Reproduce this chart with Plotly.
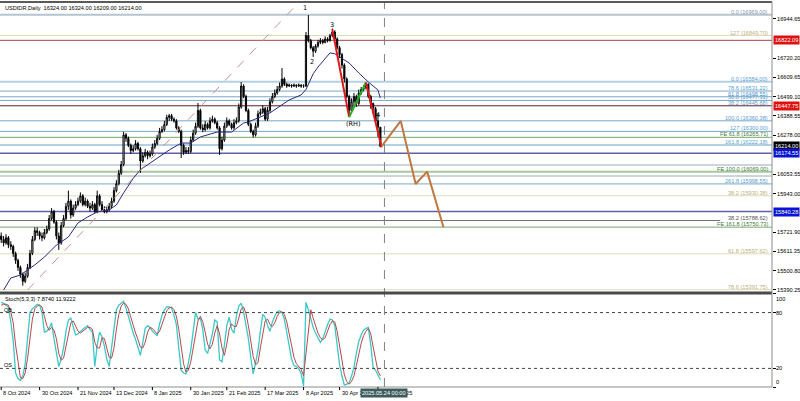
import plotly.graph_objects as go

# ---------------- data ----------------
chart_title = "USDIDR,Daily  16324.00 16324.00 16209.00 16214.00"
stoch_title = "Stoch(5,3,3) 7.8740 11.9222"

bars = list(range(159))
opens = [15700,15680,15660,15690,15650,15640,15600,15560,15520,15480,
         15440,15470,15520,15600,15680,15730,15720,15700,15690,15720,
         15740,15800,15840,15780,15700,15660,15760,15800,15870,15900,
         15820,15860,15880,15900,15930,15880,15900,15870,15860,15880,
         15840,15930,15880,15850,15840,15850,15870,15900,15960,16000,
         16060,16110,16280,16260,16220,16190,16200,16230,16200,16130,
         16160,16180,16160,16170,16210,16230,16260,16300,16310,16340,
         16380,16390,16370,16360,16320,16300,16220,16180,16190,16185,
         16250,16290,16330,16420,16320,16310,16340,16320,16360,16370,
         16350,16320,16200,16250,16330,16360,16340,16320,16350,16360,
         16440,16560,16500,16420,16340,16300,16280,16330,16400,16410,
         16430,16370,16420,16470,16500,16520,16540,16560,16600,16570,
         16560,16565,16560,16565,16560,16565,16560,16560,16850,16820,
         16780,16760,16790,16810,16820,16810,16830,16820,16850,16870,
         16830,16780,16740,16680,16600,16500,16420,16470,16500,16460,
         16520,16540,16550,16570,16500,16460,16430,16360,16324]
highs = [15720,15700,15710,15700,15670,15650,15610,15570,15530,15490,
         15490,15540,15620,15700,15750,15750,15730,15720,15740,15760,
         15820,15860,15850,15790,15720,15780,15820,15890,15960,15910,
         15880,15900,15920,15950,15940,15920,15910,15890,15900,15890,
         15960,15940,15900,15870,15870,15890,15920,15980,16020,16080,
         16130,16297,16290,16270,16230,16220,16250,16240,16210,16180,
         16200,16190,16190,16230,16250,16280,16320,16330,16360,16395,
         16400,16400,16380,16370,16330,16310,16230,16210,16210,16270,
         16310,16350,16463,16430,16340,16360,16350,16380,16390,16380,
         16360,16330,16270,16350,16380,16370,16350,16370,16380,16460,
         16583,16570,16510,16430,16350,16310,16350,16420,16430,16450,
         16440,16440,16490,16520,16540,16560,16580,16663,16610,16580,
         16575,16570,16575,16570,16575,16570,16570,16870,16967,16830,
         16790,16800,16825,16835,16830,16845,16840,16860,16890,16880,
         16840,16790,16750,16690,16610,16510,16490,16520,16510,16540,
         16555,16565,16580,16575,16510,16465,16440,16405,16324]
lows = [15660,15640,15650,15630,15620,15580,15540,15500,15460,15415,
        15430,15460,15510,15590,15670,15700,15680,15670,15680,15710,
        15730,15790,15770,15680,15620,15650,15750,15790,15850,15800,
        15810,15850,15870,15890,15870,15870,15860,15840,15850,15830,
        15830,15870,15840,15830,15830,15840,15860,15890,15950,15990,
        16050,16100,16240,16210,16170,16180,16190,16190,16061,16120,
        16150,16140,16150,16160,16200,16220,16250,16290,16300,16330,
        16360,16360,16350,16310,16290,16147,16165,16170,16170,16175,
        16240,16280,16320,16310,16295,16300,16310,16310,16350,16340,
        16310,16165,16190,16240,16320,16330,16310,16310,16340,16350,
        16430,16490,16410,16330,16290,16265,16270,16320,16390,16400,
        16360,16360,16410,16460,16490,16510,16530,16550,16560,16550,
        16555,16550,16555,16550,16555,16550,16550,16555,16810,16770,
        16727,16750,16780,16800,16800,16805,16810,16815,16840,16820,
        16770,16720,16660,16580,16490,16382,16410,16450,16440,16450,
        16510,16530,16540,16490,16430,16400,16350,16268,16209]
closes = [15680,15660,15690,15650,15640,15600,15560,15520,15480,15440,
          15470,15520,15600,15680,15730,15720,15700,15690,15720,15740,
          15800,15840,15780,15700,15660,15760,15800,15870,15900,15820,
          15860,15880,15900,15930,15880,15900,15870,15860,15880,15840,
          15930,15880,15850,15840,15850,15870,15900,15960,16000,16060,
          16110,16280,16260,16220,16190,16200,16230,16200,16130,16160,
          16180,16160,16170,16210,16230,16260,16300,16310,16340,16380,
          16390,16370,16360,16320,16300,16220,16180,16190,16185,16250,
          16290,16330,16420,16320,16310,16340,16320,16360,16370,16350,
          16320,16200,16250,16330,16360,16340,16320,16350,16360,16440,
          16560,16500,16420,16340,16300,16280,16330,16400,16410,16430,
          16370,16420,16470,16500,16520,16540,16560,16600,16570,16560,
          16565,16560,16565,16560,16565,16560,16560,16850,16820,16780,
          16760,16790,16810,16820,16810,16830,16820,16850,16870,16830,
          16780,16740,16680,16600,16500,16420,16470,16500,16460,16520,
          16540,16550,16570,16500,16460,16430,16360,16324,16214]

ma_bars = [1,4,8,14,18,23,28,32,36,40,45,48,51,53,55,58,62,70,75,79,83,90,96,101,103,
           112,120,125,127,130,132,137,139,145,149,153,157,158]
ma_values = [15390,15459,15476,15534,15579,15648,15694,15775,15809,15838,15849,15878,15947,
             15990,16030,16080,16119,16193,16233,16233,16268,16296,16296,16348,16354,
             16406,16480,16509,16540,16630,16669,16750,16745,16692,16635,16583,16537,16491]

stoch_main = [91,90,88,86,70,50,15,9,7,12,25,55,80,84,87,89,88,80,59,60,
              63,69,52,35,22,30,42,60,72,74,66,56,57,60,62,64,66,62,59,22,
              45,59,54,44,30,22,42,62,83,88,90,92,85,75,65,58,51,43,34,48,
              63,66,64,60,57,55,68,77,83,86,86,85,77,67,42,18,15,14,26,40,
              60,80,73,74,62,40,36,46,57,72,70,29,27,45,66,75,62,58,76,87,
              90,81,66,52,32,14,26,39,60,78,75,66,60,70,76,81,82,80,73,58,
              44,30,23,22,20,14,1,91,83,74,64,58,52,48,52,60,67,73,72,66,
              42,24,12,2,3,4,12,21,36,49,56,61,63,64,45,21,18,12,7.874]
stoch_signal = [88,89,89,88,81,69,45,25,10,9,15,31,53,73,84,87,88,86,76,66,
                61,64,61,52,36,29,31,44,58,69,71,65,60,58,60,62,64,64,62,48,
                42,42,53,52,43,32,31,42,62,78,87,90,89,84,75,66,58,51,43,42,
                48,59,64,63,60,57,60,67,76,82,85,86,83,76,62,42,25,16,18,27,
                42,60,71,76,70,59,46,41,46,58,66,57,42,34,46,62,68,65,65,74,
                84,86,79,66,50,33,24,26,42,59,71,73,67,65,69,76,80,81,78,70,
                58,44,32,25,22,19,12,35,58,83,74,65,58,53,51,53,60,67,71,70,
                60,44,26,13,6,3,6,12,23,35,47,55,60,63,57,43,28,17,11.9222]

price_ticks = [16944.65,16720.20,16609.65,16499.10,16388.55,16278.00,16053.55,
               15943.00,15721.90,15611.35,15500.80,15390.25]
stoch_ticks = [100, 80, 20, 0]

date_labels = ["8 Oct 2024","30 Oct 2024","21 Nov 2024","13 Dec 2024","8 Jan 2025",
               "30 Jan 2025","21 Feb 2025","17 Mar 2025","8 Apr 2025","30 Apr 2025","22 May 2025"]
date_bars = [0,16,32,47,63,79,94,110,126,141,157]
cursor_label = "2025.05.24 00:00"
cursor_bar = 159.7

fib_prices = [16969.00,16849.70,16584.00,16531.22,16498.55,16477.31,16445.68,16360.38,
              16300.00,16265.71,16222.18,16069.00,15998.55,15930.38,15788.62,15750.73,
              15597.62,15391.75]
fib_labels = ["0.0 (16969.00)","127 (16849.70)","0.0 (16584.00)","78.6 (16531.22)",
              "61.8 (16498.55)","50.0 (16477.31)","38.2 (16445.68)","100.0 (16360.38)",
              "127 (16300.00)","FE 61.8 (16265.71)","161.8 (16222.18)","FE 100.0 (16069.00)",
              "261.8 (15998.55)","38.2 (15930.38)","38.2 (15788.62)","FE 161.8 (15750.73)",
              "61.8 (15597.62)","78.6 (15391.75)"]
fib_kind = ["grey","khaki","lightblue","blue","blue","blue","blue","blue","blue","green",
            "lightblue","lightgreen","blue","khaki","dark","green","khaki","khaki"]

tag_prices = [16822.09, 16447.75, 16214.00, 16174.55, 15840.28]
tag_kind = ["red", "red", "black", "blue", "blue"]
extra_line_prices = [16107.00, 16044.00]

wave_text = ["1", "2", "3", "4", "(RH)"]
wave_bars = [126.8, 129.6, 137.9, 157.0, 146.7]
wave_prices = [17005, 16700, 16912, 16394, 16340]

wave_red1_bars = [138, 145]
wave_red1_prices = [16885, 16382]
wave_green_bars = [145, 152]
wave_green_prices = [16382, 16580]
wave_red2_bars = [152, 158.5]
wave_red2_prices = [16580, 16209]

proj_bars = [158.5, 166.5, 172.7, 177.5, 184.3]
proj_prices = [16214, 16360, 15998, 16069, 15750]

trend_bars = [11, 124]
trend_prices = [15390, 17040]

# ---------------- styles ----------------
FONT = "Liberation Sans, Arial"
FS = 5.6
line_style = {
    "grey": ("#b4c4d0", 2, "#8498ac"),
    "khaki": ("#dcdcb8", 1, "#c0ae78"),
    "lightblue": ("#b0d0e4", 2, "#5a9cd0"),
    "blue": ("#78a8c8", 1, "#5a9cd0"),
    "green": ("#78a868", 1, "#3c7a3c"),
    "lightgreen": ("#a8c898", 2, "#3c7a3c"),
    "dark": ("#707070", 1, "#505050"),
}
tag_bg = {"red": "#e01010", "black": "#000000", "blue": "#0a14d0"}
tag_line = {"red": "#a04848", "black": None, "blue": "#6060a8"}

X_MAX = 321.2
fig = go.Figure()

fig.add_trace(go.Candlestick(
    x=bars, open=opens, high=highs, low=lows, close=closes,
    increasing=dict(line=dict(color="#000000", width=1), fillcolor="#ffffff"),
    decreasing=dict(line=dict(color="#000000", width=1), fillcolor="#000000"),
    whiskerwidth=0, showlegend=False, hoverinfo="skip", xaxis="x", yaxis="y"))

fig.add_trace(go.Scatter(x=ma_bars, y=ma_values, mode="lines",
                         line=dict(color="#2a2a80", width=1), showlegend=False,
                         hoverinfo="skip", xaxis="x", yaxis="y"))

fig.add_trace(go.Scatter(x=trend_bars, y=trend_prices, mode="lines",
                         line=dict(color="#c89090", width=1, dash="dash"), showlegend=False,
                         hoverinfo="skip", xaxis="x", yaxis="y"))

for bx, py, col in [(wave_red1_bars, wave_red1_prices, "#e01818"),
                    (wave_green_bars, wave_green_prices, "#22b022"),
                    (wave_red2_bars, wave_red2_prices, "#e01818")]:
    fig.add_trace(go.Scatter(x=bx, y=py, mode="lines", line=dict(color=col, width=2),
                             showlegend=False, hoverinfo="skip", xaxis="x", yaxis="y"))

fig.add_trace(go.Scatter(x=proj_bars, y=proj_prices, mode="lines",
                         line=dict(color="#c07840", width=2), showlegend=False,
                         hoverinfo="skip", xaxis="x", yaxis="y"))

fig.add_trace(go.Scatter(x=bars, y=stoch_main, mode="lines",
                         line=dict(color="#3cc8c8", width=1.3), showlegend=False,
                         hoverinfo="skip", xaxis="x2", yaxis="y2"))
fig.add_trace(go.Scatter(x=bars, y=stoch_signal, mode="lines",
                         line=dict(color="#b84848", width=1), showlegend=False,
                         hoverinfo="skip", xaxis="x2", yaxis="y2"))

shapes = []
annotations = []

for p, lab, kind in zip(fib_prices, fib_labels, fib_kind):
    lc, lw, tc = line_style[kind]
    x1 = 0.933 if kind == "dark" else 1
    shapes.append(dict(type="line", xref="paper", yref="y", x0=0, x1=x1, y0=p, y1=p,
                       line=dict(color=lc, width=lw), layer="below"))
    annotations.append(dict(xref="paper", yref="y", x=1, y=p, xanchor="right", yanchor="bottom",
                            xshift=-2, yshift=-2, text=lab, showarrow=False,
                            font=dict(family=FONT, size=FS, color=tc)))

for p in extra_line_prices:
    shapes.append(dict(type="line", xref="paper", yref="y", x0=0, x1=1, y0=p, y1=p,
                       line=dict(color="#98a8b8", width=1), layer="below"))

for p, kind in zip(tag_prices, tag_kind):
    lc = tag_line[kind]
    if lc:
        shapes.append(dict(type="line", xref="paper", yref="y", x0=0, x1=1, y0=p, y1=p,
                           line=dict(color=lc, width=1.5 if kind == "blue" else 1), layer="below"))
    annotations.append(dict(xref="paper", yref="y", x=1, y=p, xanchor="left", yanchor="middle",
                            xshift=1, text="%.2f" % p, showarrow=False, bgcolor=tag_bg[kind],
                            borderpad=1, font=dict(family=FONT, size=FS, color="#ffffff")))

for lv in [80, 20]:
    shapes.append(dict(type="line", xref="x2 domain", yref="y2", x0=0, x1=1, y0=lv, y1=lv,
                       line=dict(color="#404040", width=1, dash="dot")))

shapes.append(dict(type="line", xref="x", yref="paper", x0=cursor_bar, x1=cursor_bar, y0=0, y1=1,
                   line=dict(color="#808080", width=1, dash="dash")))

shapes.append(dict(type="line", xref="paper", yref="paper", x0=0, x1=1, y0=1, y1=1,
                   line=dict(color="#5a5a5a", width=2)))
shapes.append(dict(type="line", xref="paper", yref="y domain", x0=0, x1=1, y0=0, y1=0,
                   line=dict(color="#4a4a4a", width=3)))
shapes.append(dict(type="line", xref="paper", yref="paper", x0=1, x1=1, y0=0, y1=1,
                   line=dict(color="#8c8c8c", width=1)))
shapes.append(dict(type="line", xref="paper", yref="paper", x0=0, x1=1, y0=0, y1=0,
                   line=dict(color="#8c8c8c", width=1)))

annotations.append(dict(xref="paper", yref="paper", x=0, y=1, xanchor="left", yanchor="top",
                        xshift=3, yshift=-1, text=chart_title, showarrow=False,
                        font=dict(family=FONT, size=FS, color="#000000")))
annotations.append(dict(xref="paper", yref="y2 domain", x=0, y=1, xanchor="left", yanchor="top",
                        xshift=3, yshift=0, text=stoch_title, showarrow=False,
                        font=dict(family=FONT, size=FS, color="#000000")))
annotations.append(dict(xref="paper", yref="y2", x=0, y=80, xanchor="left", yanchor="bottom",
                        xshift=2, yshift=-2, text="OB", showarrow=False,
                        font=dict(family=FONT, size=FS, color="#000000")))
annotations.append(dict(xref="paper", yref="y2", x=0, y=20, xanchor="left", yanchor="bottom",
                        xshift=2, yshift=-2, text="OS", showarrow=False,
                        font=dict(family=FONT, size=FS, color="#000000")))

for v in stoch_ticks:
    ya = "top" if v == 100 else ("bottom" if v == 0 else "middle")
    annotations.append(dict(xref="paper", yref="y2", x=1, y=v, xanchor="left", yanchor=ya,
                            xshift=2, text=str(v), showarrow=False,
                            font=dict(family=FONT, size=FS, color="#000000")))

for b, lab in zip(date_bars, date_labels):
    annotations.append(dict(xref="x2", yref="paper", x=b, y=0, xanchor="left", yanchor="top",
                            xshift=0, yshift=-1, text=lab, showarrow=False,
                            font=dict(family=FONT, size=FS, color="#000000")))
    shapes.append(dict(type="line", xref="x2", yref="paper", x0=b, x1=b, y0=0, y1=-0.008,
                       line=dict(color="#000000", width=1)))
annotations.append(dict(xref="x2", yref="paper", x=cursor_bar, y=0, xanchor="center", yanchor="top",
                        yshift=-1, text=cursor_label, showarrow=False, bgcolor="#3d5c5c",
                        borderpad=1, font=dict(family=FONT, size=FS, color="#ffffff")))

for t, b, p in zip(wave_text, wave_bars, wave_prices):
    annotations.append(dict(xref="x", yref="y", x=b, y=p, text=t, showarrow=False,
                            font=dict(family="DejaVu Sans, Arial", size=6.5, color="#000000")))

fig.update_layout(
    width=800, height=401,
    margin=dict(l=0, r=28, t=2, b=14),
    paper_bgcolor="#ffffff", plot_bgcolor="#ffffff",
    showlegend=False,
    shapes=shapes, annotations=annotations,
    xaxis=dict(domain=[0, 1], range=[-0.5, X_MAX], anchor="y", showgrid=False,
               showticklabels=False, zeroline=False, rangeslider=dict(visible=False),
               fixedrange=True),
    yaxis=dict(domain=[0.2442, 1], range=[15373, 17042], side="right", anchor="x",
               showgrid=False, zeroline=False, tickvals=price_ticks,
               ticktext=["%.2f" % v for v in price_ticks], ticks="outside", ticklen=3,
               tickcolor="#000000", tickfont=dict(family=FONT, size=FS, color="#000000"),
               automargin=False, fixedrange=True),
    xaxis2=dict(domain=[0, 1], range=[-0.5, X_MAX], anchor="y2", matches="x",
                showgrid=False, showticklabels=False, zeroline=False, fixedrange=True),
    yaxis2=dict(domain=[0, 0.2416], range=[0, 100], side="right", anchor="x2",
                showgrid=False, zeroline=False, tickvals=stoch_ticks, showticklabels=False,
                ticks="outside", ticklen=3, tickcolor="#000000", automargin=False,
                fixedrange=True),
)

fig.write_html("out.html", config={"displayModeBar": False, "responsive": False},
               post_script="document.body.style.margin='0px';document.body.style.padding='0px';")
